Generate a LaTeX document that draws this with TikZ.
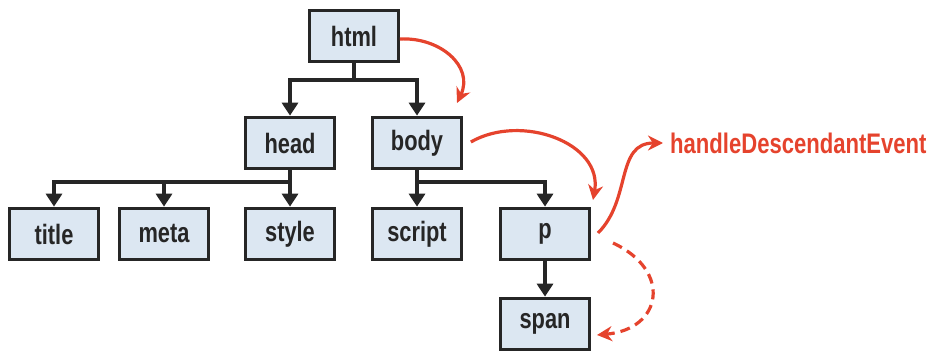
\documentclass[tikz,border=0pt]{standalone}
\usepackage{fontspec}
\setmainfont[FakeStretch=0.78]{Liberation Sans}
\usetikzlibrary{arrows.meta}
\definecolor{boxfill}{HTML}{DCE7F2}
\definecolor{boxline}{HTML}{262626}
\definecolor{redc}{HTML}{E5432D}
\begin{document}
\begin{tikzpicture}[x=1pt,y=1pt,
  box/.style={draw=boxline,fill=boxfill,line width=3.2pt,minimum width=88.5pt,minimum height=51.5pt,inner sep=0pt,
    font=\fontsize{28}{32}\selectfont\bfseries,text=boxline},
  tline/.style={draw=boxline,line width=3.2pt},
  arr/.style={tline,-{Triangle[length=13pt,width=16pt]}},
  redarr/.style={draw=redc,line width=3.2pt,-{Stealth[length=15pt,width=15pt]}}]
\useasboundingbox (0,0) rectangle (931,354);
\node[box] (html) at (354,318) {html};
\node[box] (head) at (290,211) {head};
\node[box] (body) at (417,211) {body};
\node[box] (title) at (54,120) {title};
\node[box] (meta) at (164,120) {meta};
\node[box] (style) at (290,120) {style};
\node[box] (script) at (417,120) {script};
\node[box] (p) at (545,120) {p};
\node[box] (span) at (545,30) {span};
\coordinate (hb) at (354,274);
\coordinate (hdb) at (290,172);
\coordinate (bdb) at (417,172);
% black tree connectors
\draw[tline] (html.south) -- (hb);
\draw[arr] (hb) -| (head.north);
\draw[arr] (hb) -| (body.north);
\draw[tline] (head.south) -- (hdb);
\draw[arr] (hdb) -| (title.north);
\draw[arr] (hdb) -| (meta.north);
\draw[arr] (hdb) -- (style.north);
\draw[tline] (body.south) -- (bdb);
\draw[arr] (bdb) -- (script.north);
\draw[arr] (bdb) -| (p.north);
\draw[arr] (p.south) -- (span.north);
% red event arrows
\coordinate (e1) at (457,251);
\coordinate (e2) at (593,154);
\coordinate (e3) at (663,211);
\coordinate (s3) at (598,121);
\coordinate (s4) at (613,111);
\coordinate (e4) at (597,19);
\draw[redarr] ([yshift=-3pt]html.east) to[out=3,in=65,looseness=1.2] (e1);
\draw[redarr] ([xshift=8pt,yshift=1pt]body.east) to[out=30,in=80,looseness=1.1] (e2);
\draw[redarr] (s3) to[out=45,in=180,looseness=1.1] (e3);
\node[anchor=west,text=redc,inner sep=0pt,font=\fontsize{28.3}{32}\selectfont\bfseries] (hde) at (670,211) {handleDescendantEvent};
\draw[redarr,dash pattern=on 10pt off 6pt] (s4) to[out=-25,in=5,looseness=1.8] (e4);
\end{tikzpicture}
\end{document}
